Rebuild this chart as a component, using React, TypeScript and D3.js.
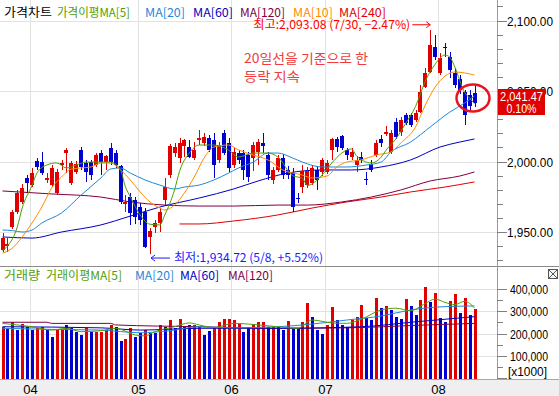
import React from 'react';
import * as d3 from 'd3';

// sessions 2014-03-24 .. 2014-08-12
const dates = [
  '3/24', '3/25', '3/26', '3/27', '3/28', '3/31',
  '4/1', '4/2', '4/3', '4/4', '4/7', '4/8', '4/9', '4/10', '4/11', '4/14', '4/15', '4/16', '4/17', '4/18',
  '4/21', '4/22', '4/23', '4/24', '4/25', '4/28', '4/29', '4/30',
  '5/2', '5/7', '5/8', '5/9', '5/12', '5/13', '5/14', '5/15', '5/16', '5/19', '5/20', '5/21', '5/22', '5/23',
  '5/26', '5/27', '5/28', '5/29', '5/30',
  '6/2', '6/3', '6/5', '6/9', '6/10', '6/11', '6/12', '6/13', '6/16', '6/17', '6/18', '6/19', '6/20',
  '6/23', '6/24', '6/25', '6/26', '6/27', '6/30',
  '7/1', '7/2', '7/3', '7/4', '7/7', '7/8', '7/9', '7/10', '7/11', '7/14', '7/15', '7/16', '7/17', '7/18',
  '7/21', '7/22', '7/23', '7/24', '7/25', '7/28', '7/29', '7/30', '7/31',
  '8/1', '8/4', '8/5', '8/6', '8/7', '8/8', '8/11', '8/12',
];

const opens = [
  1937.0, 1940.0, 1953.5, 1964.2, 1971.3, 1988.3, 1983.3, 2000.4, 1999.6, 1987.0,
  1983.3, 1977.7, 1997.5, 2006.0, 1984.8, 1992.6, 2008.2, 1999.0, 1999.6, 1997.5,
  2006.0, 1999.6, 2009.6, 2006.0, 1996.8, 1970.0, 1974.8, 1972.7, 1967.7, 1964.2,
  1946.5, 1953.5, 1956.4, 1972.7, 1990.4, 2006.0, 2002.5, 2011.0, 2010.3, 2002.5,
  2015.2, 2013.1, 2016.7, 2015.2, 2001.1, 2020.2, 2013.1, 1997.5, 2006.0, 2006.0,
  2004.6, 2002.5, 2006.7, 2013.1, 2004.6, 1986.9, 1994.0, 2002.5, 1994.0, 1991.8,
  1974.1, 1982.0, 1983.0, 1985.0, 1994.0, 1992.6, 1992.6, 2008.2, 2016.0, 2018.0,
  2008.2, 2003.2, 1997.5, 2003.2, 1987.6, 1998.2, 2004.6, 2016.0, 2019.5, 2006.7,
  2028.0, 2021.0, 2033.0, 2033.0, 2029.4, 2035.1, 2052.8, 2063.5, 2081.2, 2062.8,
  2081.0, 2074.1, 2062.8, 2058.5, 2049.3, 2047.2, 2048.6,
];
const highs = [
  1949.0, 1945.5, 1965.6, 1979.8, 1984.0, 1990.4, 1995.4, 2002.5, 2006.7, 1991.8,
  1997.5, 1994.7, 2001.1, 2009.6, 2000.4, 2000.4, 2010.3, 2001.0, 2001.0, 2006.0,
  2008.2, 2004.6, 2013.1, 2008.2, 1997.5, 1976.2, 1977.7, 1975.0, 1970.6, 1967.0,
  1952.8, 1958.5, 1967.0, 1988.3, 2012.4, 2013.1, 2016.7, 2016.0, 2015.2, 2013.8,
  2022.3, 2020.2, 2018.8, 2020.2, 2013.8, 2022.3, 2016.7, 2009.6, 2008.0, 2008.2,
  2006.7, 2013.8, 2016.0, 2020.0, 2006.7, 1996.0, 2004.6, 2005.3, 1996.8, 1995.4,
  1977.7, 1997.5, 1996.0, 1997.5, 1996.8, 2002.5, 2001.0, 2017.0, 2017.4, 2018.8,
  2009.6, 2009.6, 2004.0, 2006.7, 1992.6, 2001.0, 2015.2, 2018.8, 2025.2, 2022.3,
  2030.9, 2031.6, 2034.4, 2034.4, 2036.5, 2054.3, 2066.3, 2093.08, 2089.7, 2077.0,
  2084.0, 2077.7, 2066.3, 2061.0, 2050.7, 2050.7, 2054.3,
];
const lows = [
  1935.5, 1936.0, 1952.0, 1962.8, 1970.0, 1978.0, 1982.0, 1994.0, 1990.4, 1984.8,
  1982.0, 1976.0, 1994.0, 1991.8, 1983.3, 1991.0, 1994.0, 1985.5, 1986.9, 1996.0,
  1990.4, 1994.0, 1997.5, 1995.4, 1969.9, 1964.2, 1955.0, 1956.0, 1955.0, 1938.6,
  1934.72, 1949.3, 1950.0, 1969.1, 1988.3, 2003.2, 1999.0, 2003.0, 2002.5, 2001.0,
  2011.7, 2011.0, 2006.7, 1988.3, 1999.0, 2004.6, 1992.6, 1995.4, 1998.0, 1987.0,
  1985.5, 1993.0, 1997.5, 2006.0, 1986.9, 1984.0, 1992.6, 1987.6, 1987.6, 1964.2,
  1970.6, 1978.0, 1981.0, 1983.0, 1979.8, 1990.0, 1991.0, 2001.0, 2006.7, 2008.2,
  2001.0, 2001.0, 1992.6, 1999.0, 1983.3, 1992.6, 2003.2, 2010.3, 2018.1, 2005.0,
  2016.0, 2018.1, 2025.9, 2024.5, 2028.0, 2034.4, 2052.1, 2062.8, 2072.0, 2061.3,
  2074.0, 2059.2, 2052.1, 2048.0, 2025.9, 2036.5, 2038.7,
];
const closes = [
  1946.0, 1941.5, 1964.2, 1977.7, 1981.2, 1984.8, 1991.8, 1996.1, 1991.8, 1988.3,
  1995.4, 1992.6, 1999.0, 2008.2, 1999.0, 1998.2, 1996.1, 1992.6, 1990.4, 2004.6,
  1999.6, 2003.9, 1999.6, 1997.5, 1971.3, 1971.0, 1963.5, 1960.6, 1958.5, 1939.4,
  1950.7, 1956.4, 1964.2, 1981.9, 2011.0, 2010.3, 2013.1, 2015.2, 2003.2, 2008.2,
  2016.7, 2017.4, 2008.2, 1997.5, 2011.7, 2006.0, 1995.4, 2006.7, 2001.0, 1994.0,
  1989.0, 2011.7, 2013.8, 2011.0, 1990.4, 1994.0, 2002.5, 1990.4, 1990.4, 1967.7,
  1973.4, 1993.0, 1993.0, 1995.4, 1986.9, 2001.1, 1999.0, 2016.0, 2010.3, 2009.6,
  2004.6, 2006.7, 2001.1, 2001.1, 1986.9, 1994.0, 2013.1, 2013.1, 2021.0, 2020.2,
  2017.4, 2029.4, 2027.3, 2025.9, 2034.4, 2049.3, 2062.8, 2082.6, 2074.1, 2073.4,
  2080.5, 2064.9, 2054.3, 2050.7, 2033.0, 2039.4, 2041.47,
];

// volume, thousand shares; 1 = up day (red)
const volumes = [
  231, 219, 251, 216, 243, 228, 216, 224, 231, 216,
  186, 216, 216, 239, 224, 209, 194, 224, 209, 209,
  209, 216, 239, 231, 167, 176, 224, 186, 201, 216,
  201, 201, 239, 231, 261, 224, 266, 228, 239, 239,
  231, 194, 212, 231, 251, 266, 266, 262, 245, 209,
  228, 245, 250, 253, 231, 230, 230, 216, 257, 225,
  225, 253, 339, 274, 216, 198, 239, 319, 261, 239,
  230, 261, 274, 328, 270, 261, 360, 315, 324, 306,
  276, 266, 355, 324, 284, 351, 410, 342, 383, 271,
  253, 346, 378, 292, 360, 284, 310,
];
const volumeUp = [
  1, 0, 1, 0, 1, 0, 0, 1, 1, 0,
  0, 1, 1, 0, 0, 0, 0, 1, 0, 1,
  1, 1, 1, 0, 0, 1, 1, 0, 0, 1,
  0, 0, 1, 0, 1, 0, 1, 0, 0, 1,
  1, 0, 0, 1, 1, 1, 1, 1, 1, 0,
  0, 1, 1, 1, 0, 1, 0, 0, 1, 0,
  0, 1, 1, 0, 0, 0, 1, 1, 0, 0,
  0, 1, 1, 1, 0, 0, 1, 0, 1, 0,
  0, 0, 1, 0, 0, 1, 1, 0, 1, 0,
  0, 1, 1, 0, 1, 0, 1,
];

// moving averages: [session index, value]
const ma5 = [[0, 1937], [1, 1940], [3, 1953.5], [4, 1967], [6, 1983], [7, 1991.8], [9, 1997.5], [11, 1999], [13, 1995.4], [15, 1997.5], [17, 1999.6], [20, 1999.6], [22, 1999.6], [24, 1994], [25, 1982], [26, 1975], [28, 1962], [30, 1955.5], [32, 1955], [33, 1962], [35, 1980], [36, 1993], [38, 2006], [40, 2011.7], [43, 2011.7], [46, 2008], [48, 2003.2], [51, 2006], [54, 2006], [56, 2003.2], [59, 1990], [61, 1988], [62, 1983], [65, 1990.4], [67, 1999], [69, 2006], [71, 2008.9], [72, 2004], [75, 1999], [77, 2003], [78, 2008], [80, 2016], [82, 2027], [84, 2039], [86, 2057], [88, 2069], [90, 2075.5], [91, 2074], [92, 2067], [94, 2049], [95, 2045], [96, 2041]];
const ma10 = [[0, 1935], [2, 1938.6], [4, 1946.5], [6, 1956.4], [8, 1967.7], [10, 1981.2], [12, 1989], [14, 1994.7], [16, 1995.4], [18, 1996.1], [20, 1998.9], [22, 1998.9], [24, 1994], [26, 1986.9], [28, 1978.4], [30, 1971.3], [32, 1967], [33, 1965.6], [35, 1969.1], [37, 1977.7], [39, 1989], [41, 2002.5], [43, 2010.3], [46, 2011.7], [48, 2008.2], [51, 2004.6], [54, 2001.1], [57, 1994], [61, 1990.4], [63, 1988.3], [66, 1989.7], [68, 1996.1], [70, 1999.6], [73, 2001.1], [76, 2004.6], [79, 2006.7], [81, 2013.1], [84, 2024.5], [86, 2040.1], [88, 2052.8], [90, 2060.6], [92, 2063.5], [94, 2062.8], [96, 2061.3]];
const ma20 = [[0, 1951.4], [2, 1951], [4, 1950], [6, 1951.4], [8, 1956.4], [12, 1963.5], [16, 1976.2], [20, 1988.3], [22, 1994.7], [24, 1995.4], [26, 1991.8], [29, 1986.9], [32, 1983.3], [35, 1980.5], [37, 1981.9], [40, 1983.3], [43, 1986.9], [46, 1991.8], [48, 1995.4], [51, 1999.6], [54, 2006], [56, 2006], [59, 2002.5], [61, 1999.6], [65, 1996.1], [70, 1996.1], [74, 1997.5], [77, 1999.6], [79, 2006.7], [83, 2013.8], [87, 2024.5], [91, 2035.1], [94, 2041.5], [96, 2046.5]];
const ma60 = [[0, 1946.5], [6, 1945.7], [12, 1950], [20, 1955], [26, 1961.3], [32, 1967.7], [40, 1974.1], [47, 1980.5], [52, 1986.2], [58, 1991.8], [65, 1994], [71, 1994], [77, 1996.1], [83, 2001.1], [89, 2010.3], [93, 2013.8], [96, 2016]];
const ma120 = [[0, 1979.1], [10, 1977], [20, 1974.8], [26, 1971.3], [33, 1969.1], [40, 1968.4], [47, 1968.4], [56, 1969.1], [62, 1969.1], [69, 1971.3], [75, 1974.8], [81, 1979.8], [87, 1986.2], [93, 1989.7], [96, 1992.6]];
const ma240 = [[36, 1955.7], [40, 1955.7], [47, 1957.8], [56, 1962.1], [63, 1967], [70, 1971.3], [77, 1974.8], [83, 1978.4], [90, 1981.9], [96, 1985.5]];

const vma5 = [[0, 246], [3, 239], [6, 231], [10, 216], [13, 224], [16, 209], [20, 213], [23, 224], [27, 194], [29, 190], [31, 209], [35, 231], [38, 248], [40, 239], [43, 227], [47, 246], [50, 243], [54, 235], [56, 231], [60, 224], [63, 261], [67, 248], [70, 246], [73, 265], [77, 306], [80, 314], [83, 303], [86, 335], [88, 355], [90, 340], [92, 330], [94, 345], [96, 315]];
const vma20 = [[0, 224], [10, 219], [20, 216], [28, 204], [34, 213], [40, 231], [47, 226], [56, 231], [63, 243], [70, 261], [77, 279], [83, 306], [90, 321], [96, 324]];
const vma60 = [[0, 231], [20, 226], [28, 216], [40, 224], [56, 224], [73, 231], [84, 253], [96, 276]];
const vma120 = [[0, 251], [9, 251], [10, 246], [22, 246], [23, 239], [40, 231], [56, 224], [70, 226], [85, 238], [96, 246]];

const RED = '#e00000';
const BLUE = '#0000d0';
const C5 = '#4f9f00';
const C10 = '#ff8c00';
const C20 = '#1e88d8';
const C60 = '#0000c0';
const C120 = '#800040';
const C240 = '#e00000';
const GRID = '#e2e2e2';
const KR = "'Noto Sans CJK KR', 'Noto Sans', sans-serif";
const NUM = "'Liberation Sans', Arial, sans-serif";

export default function App() {
  const n = closes.length;
  const axisX = 497;
  const x = d3.scaleLinear().domain([0, n - 1]).range([2.5, 474.5]);
  const y = d3.scaleLinear().domain([1950, 2100]).range([232, 20.5]);
  const yv = d3.scaleLinear().domain([0, 400]).range([378.3, 289]);

  const path = (sc: d3.ScaleLinear<number, number>, pts: number[][]) =>
    d3.line<number[]>().x(d => x(d[0])).y(d => sc(d[1])).curve(d3.curveMonotoneX)(pts) || '';

  // month boundaries from the session dates
  const months: { label: string; gx: number }[] = [];
  dates.forEach((d, i) => {
    const m = d.split('/')[0];
    if (i > 0 && m !== dates[i - 1].split('/')[0]) {
      months.push({ label: m.padStart(2, '0'), gx: Math.round(x(i - 0.5)) + 0.5 });
    }
  });

  const priceTicks = d3.range(1930, 2111, 10);
  const volTicks = d3.range(0, 401, 50);
  const fmtP = d3.format(',.2f');
  const fmtV = d3.format(',');

  const last = closes[n - 1];
  const prev = closes[n - 2];
  const chg = (last / prev - 1) * 100;
  const hiIdx = d3.maxIndex(highs);
  const loIdx = d3.minIndex(lows);
  const hi = highs[hiIdx];
  const lo = lows[loIdx];
  const hiTxt = `최고:${fmtP(hi)} (${dates[hiIdx]}, ${d3.format('.2f')((last / hi - 1) * 100)}%)`;
  const loTxt = `최저:${fmtP(lo)} (${dates[loIdx]}, +${d3.format('.2f')((last / lo - 1) * 100)}%)`;

  const hx = x(hiIdx);
  const hy = y(hi);
  const lx = x(loIdx);
  const ly = y(lo);
  const lastY = Math.round(y(last));

  const priceHeader = [
    { t: '가격차트', x: 4, w: 48, c: '#000' },
    { t: '가격이평MA[5]', x: 57, w: 73, c: C5 },
    { t: 'MA[20]', x: 145, w: 40, c: C20 },
    { t: 'MA[60]', x: 193, w: 40, c: C60 },
    { t: 'MA[120]', x: 240, w: 45, c: C120 },
    { t: 'MA[10]', x: 293, w: 40, c: C10 },
    { t: 'MA[240]', x: 339, w: 47, c: C240 },
  ];
  const volHeader = [
    { t: '거래량', x: 4, w: 36, c: C5 },
    { t: '거래이평MA[5]', x: 46, w: 76, c: C5 },
    { t: 'MA[20]', x: 135, w: 39, c: C20 },
    { t: 'MA[60]', x: 180, w: 39, c: C60 },
    { t: 'MA[120]', x: 228, w: 45, c: C120 },
  ];

  return (
    <svg width={559} height={396} style={{ position: 'absolute', left: 0, top: 0, background: '#fff' }}>
      <rect x={0} y={0} width={559} height={396} fill="#fff" />

      {/* grid */}
      {months.map(m => (
        <line key={m.label} x1={m.gx} x2={m.gx} y1={0} y2={380} stroke={GRID} />
      ))}
      {priceTicks.filter(p => p % 50 === 0).map(p => (
        <line key={p} x1={0} x2={axisX} y1={Math.round(y(p)) + 0.5} y2={Math.round(y(p)) + 0.5} stroke={GRID} />
      ))}
      {volTicks.filter(v => v % 100 === 0 && v > 0).map(v => (
        <line key={v} x1={0} x2={axisX} y1={Math.round(yv(v)) + 0.5} y2={Math.round(yv(v)) + 0.5} stroke={GRID} />
      ))}

      {/* headers */}
      <g fontFamily={KR} fontSize={12}>
        {priceHeader.map(h => (
          <text key={h.t} x={h.x} y={16.5} fill={h.c} textLength={h.w} lengthAdjust="spacingAndGlyphs">{h.t}</text>
        ))}
        {volHeader.map(h => (
          <text key={h.t} x={h.x} y={280} fill={h.c} textLength={h.w} lengthAdjust="spacingAndGlyphs">{h.t}</text>
        ))}
      </g>

      {/* long moving averages under the candles */}
      <g fill="none" strokeWidth={1}>
        <path d={path(y, ma240)} stroke={C240} />
        <path d={path(y, ma120)} stroke={C120} />
        <path d={path(y, ma60)} stroke={C60} />
      </g>

      {/* candles */}
      <g shapeRendering="crispEdges">
        {closes.map((c, i) => {
          const o = opens[i];
          const col = c > o ? RED : BLUE;
          const cx = Math.round(x(i));
          const top = Math.round(y(Math.max(o, c)));
          const bot = Math.round(y(Math.min(o, c)));
          const wt = Math.round(y(highs[i]));
          const wb = Math.round(y(lows[i]));
          return (
            <g key={i}>
              <rect x={cx} y={wt} width={1} height={Math.max(1, wb - wt)} fill={col} />
              <rect x={cx - 2} y={top} width={4} height={Math.max(1, bot - top)} fill={col} />
            </g>
          );
        })}
      </g>

      <g fill="none" strokeWidth={1}>
        <path d={path(y, ma20)} stroke={C20} />
        <path d={path(y, ma10)} stroke={C10} />
        <path d={path(y, ma5)} stroke={C5} />
      </g>

      {/* annotations */}
      <g fontFamily={KR} fontSize={12}>
        <text x={hx - 20} y={hy - 1} textAnchor="end" fill="#ff0000" textLength={157} lengthAdjust="spacingAndGlyphs">{hiTxt}</text>
        <line x1={hx - 18} x2={hx} y1={hy - 5.5} y2={hy - 5.5} stroke="#ff0000" />
        <polyline points={`${hx - 4},${hy - 8.5} ${hx},${hy - 5.5} ${hx - 4},${hy - 2.5}`} fill="none" stroke="#ff0000" />

        <line x1={lx + 1} x2={lx + 20} y1={ly + 4.5} y2={ly + 4.5} stroke="#1a1aff" />
        <polyline points={`${lx + 5},${ly + 1.5} ${lx + 1},${ly + 4.5} ${lx + 5},${ly + 7.5}`} fill="none" stroke="#1a1aff" />
        <text x={lx + 24} y={ly + 8.5} fill="#1a1aff" textLength={149} lengthAdjust="spacingAndGlyphs">{loTxt}</text>

        <text x={244} y={63} fill="#f03c3c" fontSize={13} textLength={124} lengthAdjust="spacingAndGlyphs">20일선을 기준으로 한</text>
        <text x={244} y={81} fill="#f03c3c" fontSize={13} textLength={56} lengthAdjust="spacingAndGlyphs">등락 지속</text>
      </g>
      <ellipse cx={x(n - 1) - 1.5} cy={lastY - 5} rx={16.5} ry={13.5} fill="none" stroke="#e8141e" strokeWidth={2.5} />

      {/* volume */}
      <g shapeRendering="crispEdges">
        {volumes.map((v, i) => {
          const cx = Math.round(x(i));
          const top = Math.round(yv(v));
          return <rect key={i} x={cx - 1} y={top} width={3} height={379 - top} fill={volumeUp[i] ? RED : BLUE} />;
        })}
      </g>
      <g fill="none" strokeWidth={1}>
        <path d={path(yv, vma120)} stroke={C120} />
        <path d={path(yv, vma60)} stroke={C60} />
        <path d={path(yv, vma20)} stroke={C20} />
        <path d={path(yv, vma5)} stroke={C5} />
      </g>

      {/* frame */}
      <line x1={0} x2={559} y1={266.5} y2={266.5} stroke="#8a8a8a" />
      <line x1={axisX + 0.5} x2={axisX + 0.5} y1={0} y2={380} stroke="#9a9a9a" />
      <rect x={0} y={380} width={559} height={16} fill="#efefef" />
      <line x1={0} x2={559} y1={379.5} y2={379.5} stroke="#a8a8a8" />

      {/* axes */}
      <g shapeRendering="crispEdges">
        {priceTicks.map(p => (
          <line key={p} x1={axisX} x2={axisX + (p % 50 === 0 ? 10 : 6)} y1={Math.round(y(p)) + 0.5} y2={Math.round(y(p)) + 0.5} stroke="#808080" />
        ))}
        {volTicks.map(v => (
          <line key={v} x1={axisX} x2={axisX + (v % 100 === 0 ? 10 : 6)} y1={Math.round(yv(v)) + 0.5} y2={Math.round(yv(v)) + 0.5} stroke="#808080" />
        ))}
      </g>
      <g fontFamily={NUM} fontSize={13} fill="#000" textAnchor="end">
        {priceTicks.filter(p => p % 50 === 0).map(p => (
          <text key={p} x={553} y={y(p) + 5} textLength={46} lengthAdjust="spacingAndGlyphs">{fmtP(p)}</text>
        ))}
        {volTicks.filter(v => v % 100 === 0 && v > 0).map(v => (
          <text key={v} x={548} y={yv(v) + 5} textLength={38} lengthAdjust="spacingAndGlyphs">{fmtV(v * 1000)}</text>
        ))}
        <text x={547} y={376} textLength={39} lengthAdjust="spacingAndGlyphs">[x1000]</text>
      </g>

      {/* current price tag */}
      <rect x={498} y={lastY - 14} width={47} height={26} fill="#e00000" />
      <g fontFamily={NUM} fontSize={13} fill="#fff" textAnchor="middle">
        <text x={521.5} y={lastY - 2.5} textLength={43} lengthAdjust="spacingAndGlyphs">{fmtP(last)}</text>
        <text x={521.5} y={lastY + 9.5} textLength={30} lengthAdjust="spacingAndGlyphs">{d3.format('.2f')(chg)}%</text>
      </g>

      {/* close box */}
      <rect x={548.5} y={269.5} width={9} height={9} fill="#f4f4f4" stroke="#555" />
      <line x1={549} x2={557} y1={270} y2={278} stroke="#555" />
      <line x1={557} x2={549} y1={270} y2={278} stroke="#555" />

      {/* month labels */}
      <g fontFamily={NUM} fontSize={13} fill="#000" textAnchor="middle">
        {months.map(m => (
          <text key={m.label} x={m.gx} y={394}>{m.label}</text>
        ))}
      </g>
    </svg>
  );
}
